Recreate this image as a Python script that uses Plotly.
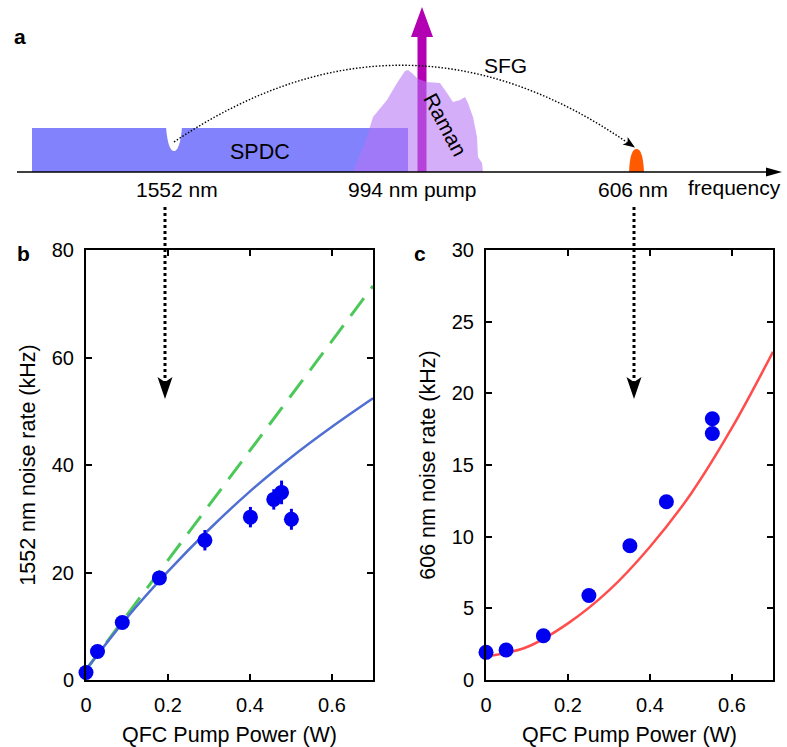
import plotly.graph_objects as go
import numpy as np

# ---------------- data ----------------
b_power = [0, 0.028, 0.0885, 0.179, 0.290, 0.401, 0.458, 0.477, 0.501]
b_rate = [1.4, 5.3, 10.7, 19.0, 26.0, 30.3, 33.6, 34.9, 29.9]
b_err = [0.5, 0.7, 0.9, 1.2, 1.9, 1.9, 1.9, 2.2, 1.95]

fit_power = [0, 0.1, 0.2, 0.3, 0.4, 0.5, 0.6, 0.7]
b_fit = [1.9, 11.6, 20.2, 28.0, 35.1, 41.4, 47.1, 52.4]
lin_power = [0, 0.7]
b_lin = [1.9, 73.3]

c_power = [0, 0.049, 0.14, 0.251, 0.351, 0.44, 0.552, 0.552]
c_rate = [1.93, 2.09, 3.09, 5.9, 9.37, 12.44, 17.2, 18.23]
c_fit = [1.63, 2.3, 3.95, 6.25, 9.3, 13.0, 17.6, 22.9]

x_ticks = [0, 0.2, 0.4, 0.6]
x_ticktext = ["0", "0.2", "0.4", "0.6"]

W, H = 787, 747
FONT = "Arial, Liberation Sans, Helvetica, sans-serif"


def X(p):
    return p / W


def Y(p):
    return 1 - p / H


def pt(x, y):
    return f"{X(x):.5f},{Y(y):.5f}"


def poly(points):
    s = "M " + " L ".join(pt(x, y) for x, y in points) + " Z"
    return s


fig = go.Figure()

# ---- panel b ----
fig.add_trace(go.Scatter(x=lin_power, y=b_lin, mode="lines",
                         line=dict(color="#4cc85a", width=3, dash="22px,12px"),
                         xaxis="x", yaxis="y"))
fig.add_trace(go.Scatter(x=fit_power, y=b_fit, mode="lines", line_shape="spline",
                         line=dict(color="#4f6fd3", width=2.5),
                         xaxis="x", yaxis="y"))
fig.add_trace(go.Scatter(x=b_power, y=b_rate, mode="markers",
                         marker=dict(color="#0000f0", size=15),
                         error_y=dict(type="data", array=b_err, color="#0000f0",
                                      thickness=3, width=0),
                         cliponaxis=False, xaxis="x", yaxis="y"))

# ---- panel c ----
fig.add_trace(go.Scatter(x=fit_power, y=c_fit, mode="lines", line_shape="spline",
                         line=dict(color="#ff4d4d", width=2.5),
                         xaxis="x2", yaxis="y2"))
fig.add_trace(go.Scatter(x=c_power, y=c_rate, mode="markers",
                         marker=dict(color="#0000f0", size=15),
                         cliponaxis=False, xaxis="x2", yaxis="y2"))

axis_common = dict(showline=True, linewidth=2, linecolor="black", mirror="allticks",
                   ticks="inside", ticklen=6, tickwidth=2, tickcolor="black",
                   showgrid=False, zeroline=False, automargin=False,
                   tickfont=dict(family=FONT, size=20, color="black"))

ydom = [1 - 680 / H, 1 - 250 / H]
fig.update_layout(
    width=W, height=H, margin=dict(l=0, r=0, t=0, b=0, autoexpand=False),
    paper_bgcolor="white", plot_bgcolor="white", showlegend=False,
    xaxis=dict(domain=[86 / W, 373 / W], range=[0, 0.7], tickvals=x_ticks, ticktext=x_ticktext,
               title=dict(text="QFC Pump Power (W)", font=dict(family=FONT, size=21.5, color="black"),
                          standoff=14),
               ticklabelstandoff=6, anchor="y", **axis_common),
    yaxis=dict(domain=ydom, range=[0, 80], tickvals=[0, 20, 40, 60, 80],
               title=dict(text="1552 nm noise rate (kHz)", font=dict(family=FONT, size=21.5, color="black"),
                          standoff=10),
               ticklabelstandoff=6, anchor="x", **axis_common),
    xaxis2=dict(domain=[486 / W, 773 / W], range=[0, 0.7], tickvals=x_ticks, ticktext=x_ticktext,
                title=dict(text="QFC Pump Power (W)", font=dict(family=FONT, size=21.5, color="black"),
                           standoff=14),
                ticklabelstandoff=6, anchor="y2", **axis_common),
    yaxis2=dict(domain=ydom, range=[0, 30], tickvals=[0, 5, 10, 15, 20, 25, 30],
                title=dict(text="606 nm noise rate (kHz)", font=dict(family=FONT, size=21.5, color="black"),
                           standoff=10),
                ticklabelstandoff=6, anchor="x2", **axis_common),
)

# ---------------- diagram (panel a) ----------------
shapes = []
SPDC_COL = "#8282fc"
RAMAN_COL = "rgba(182,116,246,0.58)"
PUMP_COL = "#b300b3"

# SPDC band
shapes.append(dict(type="path", xref="paper", yref="paper",
                   path=poly([(32, 128), (408, 128), (408, 172), (32, 172)]),
                   fillcolor=SPDC_COL, line=dict(width=0)))
# notch at 1552 nm
shapes.append(dict(type="path", xref="paper", yref="paper",
                   path=f"M {pt(166,127)} Q {pt(168,151)} {pt(174,151)} Q {pt(180,151)} {pt(182,127)} Z",
                   fillcolor="white", line=dict(width=0)))
# pump arrow
shapes.append(dict(type="path", xref="paper", yref="paper",
                   path=poly([(417.5, 172), (426.5, 172), (426.5, 37), (433, 37), (422, 7), (411, 37), (417.5, 37)]),
                   fillcolor=PUMP_COL, line=dict(width=0)))
# Raman band
raman = [(353, 172), (360, 155), (365, 143), (373, 117), (387, 100), (397, 83), (405, 71),
         (408, 70), (412, 73), (418, 79), (427, 82), (440, 83), (447, 93), (453, 102),
         (460, 100), (465, 97), (468, 103), (473, 117), (477, 137), (478, 157),
         (482, 163), (483, 172)]
shapes.append(dict(type="path", xref="paper", yref="paper", path=poly(raman),
                   fillcolor=RAMAN_COL, line=dict(width=0)))
# 606 nm peak
shapes.append(dict(type="path", xref="paper", yref="paper",
                   path=f"M {pt(629,172)} C {pt(630,151)} {pt(634,149)} {pt(636.5,149)} C {pt(639,149)} {pt(643,151)} {pt(644,172)} Z",
                   fillcolor="#ff5a00", line=dict(width=0)))
# frequency axis
shapes.append(dict(type="line", xref="paper", yref="paper", x0=X(17), y0=Y(172), x1=X(772), y1=Y(172),
                   line=dict(color="black", width=1.6)))
shapes.append(dict(type="path", xref="paper", yref="paper",
                   path=poly([(766, 167.5), (782, 172), (766, 176.5)]),
                   fillcolor="black", line=dict(width=0)))
# SFG arc
shapes.append(dict(type="path", xref="paper", yref="paper",
                   path=f"M {pt(174,142)} Q {pt(403,-12)} {pt(628,143)}",
                   line=dict(color="black", width=1.4, dash="1.5px,1.8px")))
tip = np.array([635.0, 147.5])
u = np.array([230.0, 158.0]); u /= np.linalg.norm(u)
n = np.array([-u[1], u[0]])
base = tip - 12 * u
c1, c2 = base + 4.5 * n, base - 4.5 * n
shapes.append(dict(type="path", xref="paper", yref="paper",
                   path=poly([tuple(tip), tuple(c1), tuple(base + 3 * u), tuple(c2)]),
                   fillcolor="black", line=dict(width=0)))
# vertical dotted arrows
for xv in (165, 634):
    shapes.append(dict(type="line", xref="paper", yref="paper", x0=X(xv), y0=Y(207), x1=X(xv), y1=Y(382),
                       line=dict(color="black", width=3, dash="3px,3px")))
    shapes.append(dict(type="path", xref="paper", yref="paper",
                       path=poly([(xv - 7.5, 377), (xv, 382), (xv + 7.5, 377), (xv, 399)]),
                       fillcolor="black", line=dict(width=0)))

fig.update_layout(shapes=shapes)

ann = []


def txt(x, y, s, size=21, bold=False, angle=0, xanchor="center"):
    ann.append(dict(x=X(x), y=Y(y), xref="paper", yref="paper", text=f"<b>{s}</b>" if bold else s,
                    showarrow=False, xanchor=xanchor, yanchor="middle", textangle=angle,
                    font=dict(family=FONT, size=size, color="black")))


txt(20, 36, "a", size=21, bold=True)
txt(23, 253, "b", size=21, bold=True)
txt(420, 253, "c", size=21, bold=True)
txt(260, 152, "SPDC", size=21.5)
txt(505, 66, "SFG", size=21)
txt(445, 125, "Raman", size=21, angle=62)
txt(177, 189, "1552 nm", size=21)
txt(412, 189, "994 nm pump", size=21)
txt(633, 189, "606 nm", size=21)
txt(686, 187, "frequency", size=21, xanchor="left")

fig.update_layout(annotations=ann)

fig.write_html("out.html")
